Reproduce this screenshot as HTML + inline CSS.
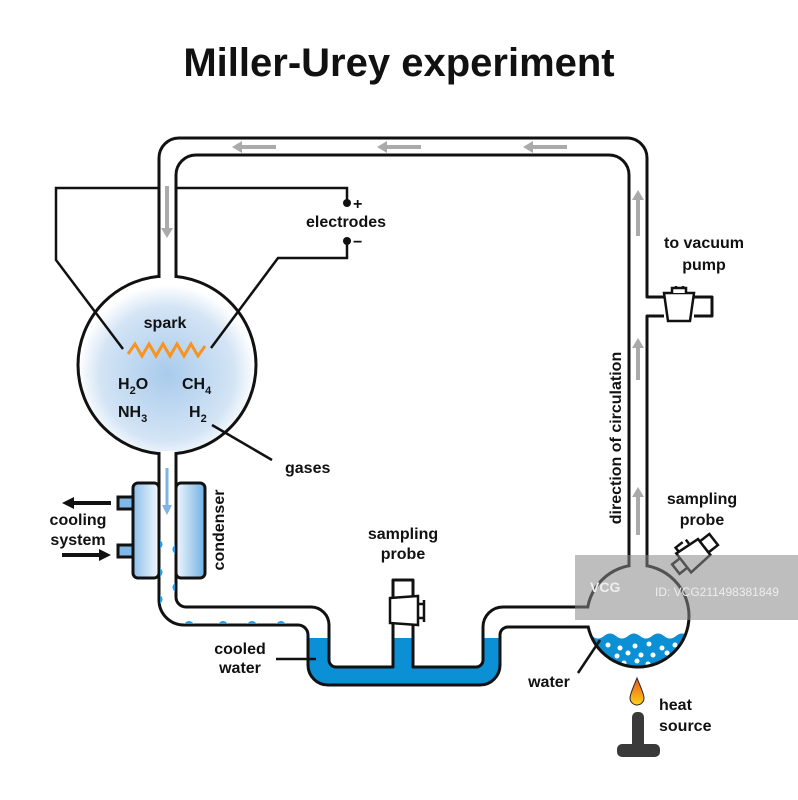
<!DOCTYPE html>
<html><head><meta charset="utf-8"><style>
html,body{margin:0;padding:0;background:#fff;}
svg{display:block;}
text{font-family:"Liberation Sans",Arial,sans-serif;font-weight:bold;fill:#111;}
</style></head><body>
<svg width="798" height="800" viewBox="0 0 798 800" xmlns="http://www.w3.org/2000/svg">
<defs>
<radialGradient id="gas" cx="0.5" cy="0.55" r="0.5">
<stop offset="0" stop-color="#a9cbec"/><stop offset="0.75" stop-color="#d3e4f5"/><stop offset="1" stop-color="#ffffff"/>
</radialGradient>
<linearGradient id="condL" x1="0" x2="1"><stop offset="0" stop-color="#8fc0ea"/><stop offset="1" stop-color="#f2f8fd"/></linearGradient>
<linearGradient id="condR" x1="0" x2="1"><stop offset="0" stop-color="#f2f8fd"/><stop offset="1" stop-color="#6fb0e4"/></linearGradient>
<linearGradient id="flame" x1="0" y1="0" x2="0" y2="1"><stop offset="0" stop-color="#e8541e"/><stop offset="1" stop-color="#ffd21a"/></linearGradient>
<clipPath id="flaskclip"><circle cx="638" cy="616" r="51"/></clipPath>
</defs>

<text x="399" y="76" font-size="40" text-anchor="middle">Miller-Urey experiment</text>

<circle cx="167" cy="365" r="89" fill="url(#gas)" stroke="#111" stroke-width="3"/>
<rect x="160.5" y="270" width="14" height="9" fill="#fff"/>
<rect x="160.5" y="451" width="14" height="9" fill="#fff"/>

<rect x="118" y="497" width="18" height="12" fill="#7fb7e6" stroke="#111" stroke-width="3"/>
<rect x="118" y="545" width="18" height="12" fill="#7fb7e6" stroke="#111" stroke-width="3"/>
<rect x="133" y="483" width="26" height="95" rx="5" fill="url(#condL)" stroke="#111" stroke-width="3"/>
<rect x="176" y="483" width="29" height="95" rx="5" fill="url(#condR)" stroke="#111" stroke-width="3"/>
<rect x="160.5" y="480" width="14" height="100" fill="#fff"/>

<path d="M308,638 L308,665 A20,20 0 0 0 328,685 L480,685 A20,20 0 0 0 500,665 L500,638 L483,638 L483,660 A7,7 0 0 1 476,667 L413,667 L413,638 L393,638 L393,667 L336,667 A7,7 0 0 1 329,660 L329,638 Z" fill="#0b8fd5"/>

<circle cx="638" cy="616" r="51" fill="#fff"/>
<g clip-path="url(#flaskclip)">
<path d="M580,636 q6,-5 12,0 t12,0 t12,0 t12,0 t12,0 t12,0 t12,0 t12,0 t12,0 L700,680 L580,680 Z" fill="#0b8fd5"/>
<g fill="#fff">
<circle cx="608" cy="645" r="2.5"/><circle cx="620" cy="648" r="2.5"/><circle cx="635" cy="646" r="2.5"/><circle cx="649" cy="644" r="2.5"/><circle cx="662" cy="648" r="2.5"/><circle cx="675" cy="645" r="2.5"/>
<circle cx="617" cy="656" r="2.5"/><circle cx="628" cy="653" r="2.5"/><circle cx="641" cy="655" r="2.5"/><circle cx="653" cy="655" r="2.5"/><circle cx="667" cy="653" r="2.5"/>
<circle cx="624" cy="663" r="2.5"/><circle cx="637" cy="661" r="2.5"/><circle cx="648" cy="664" r="2.5"/>
</g>
</g>
<circle cx="638" cy="616" r="51" fill="none" stroke="#111" stroke-width="3"/>
<rect x="630.5" y="558" width="15" height="12" fill="#fff"/>
<rect x="583" y="608.5" width="8" height="17" fill="#fff"/>

<g fill="none" stroke="#111" stroke-width="3" stroke-linejoin="round">
<path d="M159,278 L159,158 A20,20 0 0 1 179,138 L627,138 A20,20 0 0 1 647,158 L647,297 L664,297 M694,297 L712,297 L712,316 L694,316 M664,316 L647,316 L647,566"/>
<path d="M176,278 L176,175 A20,20 0 0 1 196,155 L609,155 A20,20 0 0 1 629,175 L629,566"/>
<path d="M159,453 L159,600 A25,25 0 0 0 184,625 L298,625 A10,10 0 0 1 308,635 L308,665 A20,20 0 0 0 328,685 L480,685 A20,20 0 0 0 500,665 L500,635 A8,8 0 0 1 508,627 L588,627"/>
<path d="M176,453 L176,597 A10,10 0 0 0 186,607 L311,607 A18,18 0 0 1 329,625 L329,660 A7,7 0 0 0 336,667 L393,667 L393,580 L413,580 L413,667 L476,667 A7,7 0 0 0 483,660 L483,627 A20,20 0 0 1 503,607 L588,607"/>
</g>

<path d="M390,598 L418,596 L418,625 L390,623 Z" fill="#fff" stroke="#111" stroke-width="2.5"/>
<path d="M418,604 L424,604 L424,618 L418,618 M424,600 L424,622" fill="none" stroke="#111" stroke-width="2.5"/>

<path d="M664,293 L694,293 L690,321 L668,321 Z" fill="#fff" stroke="#111" stroke-width="2.5"/>
<path d="M672,293 L672,288 L686,288 L686,293 M676,288 L676,286 M683,288 L683,286" fill="#fff" stroke="#111" stroke-width="2.5"/>

<g transform="translate(690,558) rotate(-38)" fill="#fff" stroke="#111" stroke-width="2.5">
<rect x="-18" y="-6" width="12" height="12"/>
<path d="M-8,-12 L18,-10 L18,10 L-8,12 Z"/>
<rect x="18" y="-7" width="12" height="14"/>
<path d="M-5,-12 L-5,-17 L4,-17 M8,-12 L8,-17" fill="none"/>
</g>

<g fill="none" stroke="#111" stroke-width="2.5">
<path d="M159,188 L56,188 L56,260 L123,349"/>
<path d="M176,188 L347,188 L347,203"/>
<path d="M347,241 L347,258 L278,258 L211,348"/>
<path d="M212,425 L272,460"/>
<path d="M276,659 L316,659"/>
<path d="M578,673 L600,640"/>
</g>
<circle cx="347" cy="203" r="4" fill="#111"/>
<circle cx="347" cy="241" r="4" fill="#111"/>

<polyline points="128,354 135,344 142,356 149,344 156,356 163,344 170,356 177,344 184,356 191,344 198,356 205,346" fill="none" stroke="#f7931e" stroke-width="3"/>

<g fill="#aaa">
<path d="M232,147 L242,141 L242,145 L276,145 L276,149 L242,149 L242,153 Z"/>
<path d="M377,147 L387,141 L387,145 L421,145 L421,149 L387,149 L387,153 Z"/>
<path d="M523,147 L533,141 L533,145 L567,145 L567,149 L533,149 L533,153 Z"/>
<path d="M167,238 L161,228 L165,228 L165,186 L169,186 L169,228 L173,228 Z"/>
<path d="M638,190 L632,200 L636,200 L636,236 L640,236 L640,200 L644,200 Z"/>
<path d="M638,338 L632,348 L636,348 L636,380 L640,380 L640,348 L644,348 Z"/>
<path d="M638,487 L632,497 L636,497 L636,535 L640,535 L640,497 L644,497 Z"/>
</g>
<path d="M167,515 L162,505 L165.5,505 L165.5,468 L168.5,468 L168.5,505 L172,505 Z" fill="#7fb3e3"/>

<g fill="#2a9be0">
<path d="M160,540 q5,4 0,9 z"/><path d="M160,568 q5,4 0,9 z"/><path d="M160,595 q5,4 0,9 z"/>
<path d="M175,545 q-5,4 0,9 z"/><path d="M175,583 q-5,4 0,9 z"/>
<path d="M184,624 q5,-6 10,0 z"/><path d="M218,624 q5,-6 10,0 z"/><path d="M247,624 q5,-6 10,0 z"/><path d="M276,624 q5,-6 10,0 z"/>
</g>

<path d="M62,503 L74,497 L74,501 L111,501 L111,505 L74,505 L74,509 Z" fill="#111"/>
<path d="M111,555 L99,549 L99,553 L62,553 L62,557 L99,557 L99,561 Z" fill="#111"/>

<path d="M637,678 C633,688 630,694 630,698 A7,7 0 0 0 644,698 C644,694 641,688 637,678 Z" fill="url(#flame)" stroke="#222" stroke-width="1"/>
<rect x="632" y="712" width="12" height="40" rx="5" fill="#3a3a3a"/>
<rect x="617" y="744" width="43" height="13" rx="5" fill="#3a3a3a"/>

<g font-size="16">
<text x="165" y="328" text-anchor="middle">spark</text>
<text x="118" y="389">H<tspan font-size="11" dy="5">2</tspan><tspan dy="-5">O</tspan></text>
<text x="182" y="389">CH<tspan font-size="11" dy="5">4</tspan></text>
<text x="118" y="417">NH<tspan font-size="11" dy="5">3</tspan></text>
<text x="189" y="417">H<tspan font-size="11" dy="5">2</tspan></text>
<text x="285" y="473">gases</text>
<text x="346" y="227" text-anchor="middle">electrodes</text>
<text x="353" y="209">+</text>
<text x="353" y="247">−</text>
<text x="78" y="525" text-anchor="middle">cooling</text>
<text x="78" y="545" text-anchor="middle">system</text>
<text transform="translate(224,530) rotate(-90)" text-anchor="middle">condenser</text>
<text x="403" y="539" text-anchor="middle">sampling</text>
<text x="403" y="559" text-anchor="middle">probe</text>
<text x="240" y="654" text-anchor="middle">cooled</text>
<text x="240" y="673" text-anchor="middle">water</text>
<text x="549" y="687" text-anchor="middle">water</text>
<text x="702" y="504" text-anchor="middle">sampling</text>
<text x="702" y="525" text-anchor="middle">probe</text>
<text x="704" y="248" text-anchor="middle">to vacuum</text>
<text x="704" y="270" text-anchor="middle">pump</text>
<text x="659" y="710">heat</text>
<text x="659" y="731">source</text>
<text transform="translate(621,438) rotate(-90)" text-anchor="middle">direction of circulation</text>
</g>

<rect x="575" y="555" width="223" height="65" fill="#888" opacity="0.55"/>
<text x="590" y="592" font-size="14" style="fill:#eee">VCG</text>
<text x="655" y="596" font-size="12" style="fill:#eee;font-weight:normal">ID: VCG211498381849</text>
</svg>
</body></html>
